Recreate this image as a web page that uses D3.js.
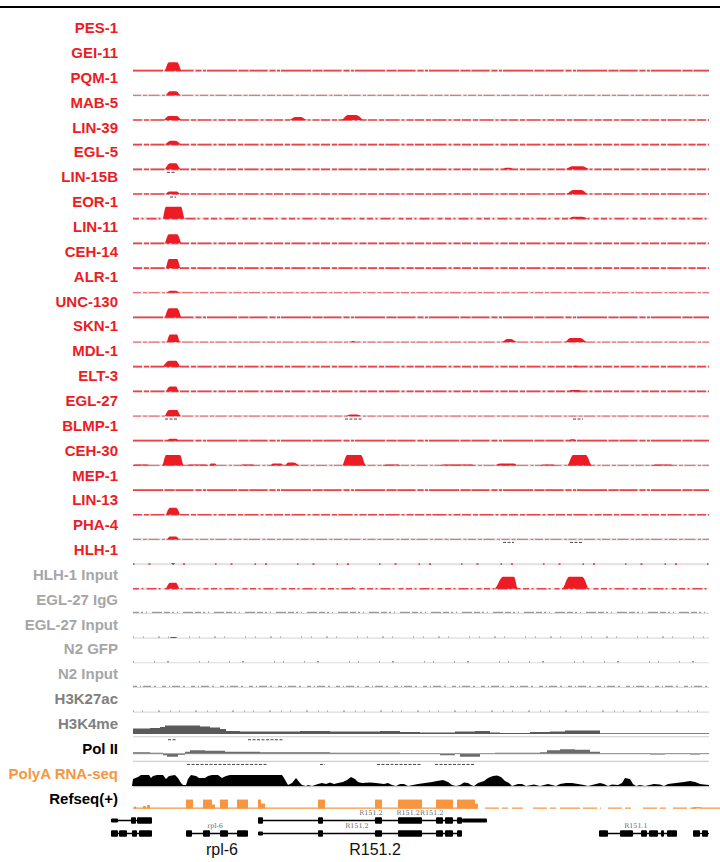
<!DOCTYPE html>
<html>
<head>
<meta charset="utf-8">
<script src="https://cdn.jsdelivr.net/npm/d3@7"></script>
<style>
  body { margin: 0; background: #fff; }
  svg { display: block; }
</style>
</head>
<body>
<div id="chart"></div>
<script>
// track labels, top to bottom
const labels = ['PES-1', 'GEI-11', 'PQM-1', 'MAB-5', 'LIN-39', 'EGL-5', 'LIN-15B', 'EOR-1', 'LIN-11',
  'CEH-14', 'ALR-1', 'UNC-130', 'SKN-1', 'MDL-1', 'ELT-3', 'EGL-27', 'BLMP-1', 'CEH-30', 'MEP-1',
  'LIN-13', 'PHA-4', 'HLH-1', 'HLH-1 Input', 'EGL-27 IgG', 'EGL-27 Input', 'N2 GFP', 'N2 Input',
  'H3K27ac', 'H3K4me', 'Pol II', 'PolyA RNA-seq', 'Refseq(+)'];
const tracks = labels.slice(1);

// ChIP peaks: [track, start, topStart, topEnd, end, height] (bp from window start)
const peaks = [
  ['GEI-11', 320, 360, 440, 480, 8.5],
  ['PQM-1', 330, 370, 430, 470, 4],
  ['MAB-5', 310, 360, 440, 490, 4],
  ['MAB-5', 1560, 1620, 1680, 1740, 3],
  ['MAB-5', 2080, 2150, 2230, 2300, 5],
  ['LIN-39', 320, 380, 420, 480, 4],
  ['EGL-5', 320, 370, 430, 480, 6],
  ['EGL-5', 3690, 3730, 3770, 3810, 1.5],
  ['EGL-5', 4320, 4390, 4490, 4560, 3],
  ['LIN-15B', 330, 360, 440, 470, 2.5],
  ['LIN-15B', 4330, 4400, 4480, 4540, 4],
  ['EOR-1', 300, 330, 480, 520, 12],
  ['EOR-1', 4350, 4400, 4490, 4550, 2],
  ['LIN-11', 320, 360, 440, 480, 9],
  ['CEH-14', 330, 360, 440, 470, 9],
  ['ALR-1', 340, 370, 430, 460, 2],
  ['UNC-130', 320, 360, 440, 480, 9],
  ['SKN-1', 340, 370, 440, 470, 7.5],
  ['SKN-1', 2180, 2190, 2210, 2220, 1],
  ['SKN-1', 3690, 3740, 3780, 3840, 3],
  ['SKN-1', 4320, 4370, 4470, 4530, 4],
  ['MDL-1', 300, 360, 430, 480, 6],
  ['MDL-1', 4390, 4410, 4430, 4450, 1],
  ['ELT-3', 330, 370, 430, 460, 5],
  ['ELT-3', 4360, 4380, 4460, 4480, 1.5],
  ['EGL-27', 320, 360, 440, 480, 6],
  ['EGL-27', 2130, 2170, 2240, 2280, 1.5],
  ['BLMP-1', 340, 370, 430, 460, 2],
  ['BLMP-1', 4360, 4380, 4410, 4430, 1.5],
  ['CEH-30', 0, 20, 150, 170, 1],
  ['CEH-30', 290, 330, 470, 510, 10.5],
  ['CEH-30', 540, 560, 730, 750, 1],
  ['CEH-30', 760, 780, 820, 840, 2],
  ['CEH-30', 1070, 1090, 1200, 1220, 1],
  ['CEH-30', 1370, 1400, 1480, 1510, 2],
  ['CEH-30', 1520, 1550, 1610, 1670, 3],
  ['CEH-30', 2090, 2140, 2280, 2330, 10.5],
  ['CEH-30', 2500, 2530, 2650, 2680, 1],
  ['CEH-30', 3070, 3100, 3390, 3420, 1],
  ['CEH-30', 3610, 3670, 3810, 3850, 2],
  ['CEH-30', 4070, 4100, 4200, 4230, 1],
  ['CEH-30', 4340, 4400, 4530, 4590, 10.5],
  ['CEH-30', 5190, 5220, 5370, 5400, 1],
  ['LIN-13', 330, 370, 430, 470, 7],
  ['PHA-4', 340, 370, 430, 460, 3],
  ['HLH-1', 380, 390, 410, 420, 1],
  ['HLH-1 Input', 330, 370, 430, 470, 6],
  ['HLH-1 Input', 2180, 2190, 2200, 2210, 1.5],
  ['HLH-1 Input', 3610, 3700, 3810, 3850, 12],
  ['HLH-1 Input', 4290, 4360, 4490, 4550, 12],
  ['EGL-27 Input', 370, 380, 430, 440, 1]
];

// small feature ticks under tracks: [track, start, end]
const marks = [
  ['EGL-5', 340, 430], ['LIN-15B', 370, 430],
  ['EGL-27', 320, 440], ['EGL-27', 2120, 2290], ['EGL-27', 4400, 4500],
  ['PHA-4', 3700, 3810], ['PHA-4', 4370, 4490],
  ['H3K4me', 350, 440], ['H3K4me', 1150, 1500],
  ['Pol II', 540, 1340], ['Pol II', 1870, 1920], ['Pol II', 2440, 2890], ['Pol II', 3020, 3420]
];

// H3K4me coverage steps [pos, value]
const h3k4me = [[0, 5.5], [170, 6], [270, 7], [320, 8.5], [670, 7.5], [770, 6.5], [870, 5], [930, 3],
  [1070, 2.5], [1670, 3], [1970, 2.5], [2470, 3], [2670, 2], [2870, 1.5], [3220, 2.5], [3420, 3],
  [3570, 1.5], [3670, 1], [3970, 2], [4170, 2.5], [4320, 3.5], [4670, 0.8], [5760, 0.8]];

// Pol II signal steps [pos, value]
const polII = [[0, 1.5], [170, 1], [300, -1.5], [340, -3], [450, -1], [520, 2], [570, 3.5], [720, 3],
  [920, 2], [1270, 1.5], [1970, 1], [2670, 0.5], [3070, -1.5], [3220, 0.5], [3270, -3], [3470, 0.5],
  [3620, 1], [4070, 1.5], [4140, 3.5], [4270, 4.5], [4420, 4], [4570, 2], [4670, 0.5], [5170, -0.8],
  [5320, 0.5], [5570, -0.8], [5670, 0.5], [5760, 0.5]];

// PolyA RNA-seq coverage [pos, value]
const polyA = [[-10, 0], [0, 7], [50, 9], [80, 11], [160, 11], [180, 8], [200, 10], [240, 11], [300, 11],
  [330, 7], [360, 10], [420, 11], [450, 8], [480, 3], [500, 1], [530, 1], [550, 7], [580, 11], [630, 10],
  [660, 8], [720, 8], [750, 10], [790, 11], [850, 11], [890, 8], [930, 10], [970, 11], [1490, 11],
  [1510, 8], [1550, 1], [1590, 3], [1630, 8], [1670, 3], [1690, 1], [1730, 0], [1750, 1], [1790, 0],
  [1850, 2], [1890, 3], [1930, 2], [1970, 3.5], [2010, 2], [2050, 3], [2100, 4], [2140, 6], [2180, 9],
  [2220, 7], [2250, 4], [2290, 3], [2370, 3.5], [2430, 3], [2510, 2], [2550, 3], [2590, 1], [2630, 0],
  [2670, 2], [2710, 2], [2750, 0], [2850, 2], [2920, 3], [2990, 4], [3040, 5], [3100, 6], [3150, 4],
  [3190, 1], [3230, 0], [3270, 1], [3310, 3.5], [3350, 3], [3380, 1], [3410, 0], [3450, 3], [3510, 5],
  [3550, 8], [3600, 10], [3640, 10.5], [3680, 9], [3720, 5], [3760, 3], [3790, 0], [3850, 2], [3890, 2],
  [3930, 0], [4010, 1.5], [4070, 0], [4150, 2], [4190, 1], [4230, 0], [4270, 2], [4330, 3], [4390, 3],
  [4450, 2], [4510, 1], [4550, 0], [4630, 2], [4670, 3], [4710, 2], [4750, 0], [4790, 1.5], [4850, 1],
  [4890, 3], [4920, 8], [4970, 7], [5000, 2], [5030, 0], [5070, 1], [5120, 0], [5210, 2], [5270, 1.5],
  [5310, 0], [5350, 2], [5430, 3], [5510, 4], [5570, 5], [5620, 4], [5670, 2], [5710, 1.5], [5760, 1]];

// Refseq(+) coverage blocks [start, end, value] and covered stretches of its baseline
const rnaBlocks = [[10, 30, 2], [100, 130, 2.5], [140, 170, 3.5], [530, 600, 9], [700, 790, 9],
  [790, 820, 4], [870, 950, 9], [1040, 1150, 9], [1250, 1280, 9], [1280, 1320, 5], [1850, 1920, 9],
  [2420, 2490, 9], [2650, 2890, 9], [3030, 3200, 9], [3240, 3420, 9], [3420, 3450, 5], [5600, 5680, 1.5]];
const rnaBaseline = [[0, 3450], [3520, 3900], [4000, 4680], [4750, 5000], [5100, 5350], [5400, 5870]];

// gene models: exons [row, start, end, type], introns [row, start, end]
const exons = [
  [0, -220, -150, 'utr'], [0, -20, 30, 'cds'], [0, 40, 190, 'cds'],
  [0, 1250, 1300, 'cds'], [0, 1850, 1900, 'cds'], [0, 2420, 2490, 'cds'], [0, 2650, 2890, 'cds'],
  [0, 3030, 3100, 'cds'], [0, 3120, 3200, 'cds'], [0, 3240, 3290, 'cds'], [0, 3290, 3540, 'utr'],
  [1, -220, -150, 'cds'], [1, -140, -60, 'cds'], [1, -10, 40, 'cds'], [1, 60, 190, 'cds'],
  [1, 530, 590, 'cds'], [1, 700, 770, 'cds'], [1, 870, 950, 'cds'], [1, 1040, 1150, 'cds'],
  [1, 1250, 1300, 'utr'], [1, 1850, 1900, 'cds'], [1, 2420, 2490, 'cds'], [1, 2650, 2890, 'cds'],
  [1, 3030, 3100, 'cds'], [1, 3120, 3200, 'cds'], [1, 3240, 3290, 'cds'],
  [1, 4660, 4750, 'cds'], [1, 4870, 5000, 'cds'], [1, 5080, 5140, 'cds'], [1, 5160, 5250, 'cds'],
  [1, 5280, 5310, 'cds'], [1, 5340, 5440, 'cds'], [1, 5600, 5670, 'cds'], [1, 5690, 5750, 'cds']
];
const introns = [[0, -220, 190], [0, 1250, 3540], [1, -220, 190], [1, 530, 1150], [1, 1250, 3290],
  [1, 4660, 5440], [1, 5600, 5760]];
const geneTags = [['rpl-6', 820, 1], ['R151.2', 2380, 0], ['R151.2', 2240, 1], ['R151.2R151.2', 2870, 0],
  ['R151.1', 5030, 1]];
const geneNames = [['rpl-6', 890], ['R151.2', 2420]];

// ---- styles ----
const RED = '#ED1C24', ORANGE = '#F7963E';
const labelColor = d => {
  const i = labels.indexOf(d);
  if (i <= 21) return RED;
  if (i <= 26) return '#a6a6a6';
  if (i <= 28) return '#808080';
  if (d === 'PolyA RNA-seq') return ORANGE;
  return '#000';
};
const dashes = {
  dense: '30 1.5 10 1 18 2 6 1.5 3 1',
  medium: '9 2 5 1.5 14 2 3 2 7 1.5',
  sparse: '6 2.5 2 3 10 2 2 4 5 2.5',
  light: '8 2 4 1.5 11 2.5 3 1.5',
  dots: '1.5 14 2 22 1.5 9 2 30'
};
const redLine = {
  'GEI-11': 'dense', 'PQM-1': 'light', 'MAB-5': 'medium', 'LIN-39': 'medium', 'EGL-5': 'medium',
  'LIN-15B': 'medium', 'EOR-1': 'sparse', 'LIN-11': 'medium', 'CEH-14': 'medium', 'ALR-1': 'light',
  'UNC-130': 'dense', 'SKN-1': 'light', 'MDL-1': 'medium', 'ELT-3': 'medium', 'EGL-27': 'light',
  'BLMP-1': 'dense', 'CEH-30': 'light', 'MEP-1': 'dense', 'LIN-13': 'medium', 'PHA-4': 'light',
  'HLH-1': 'dots', 'HLH-1 Input': 'sparse'
};
const grayLine = {
  'EGL-27 IgG': '6 2 2 3 1 5 10 2', 'EGL-27 Input': '1 9 1 14 2 8 1 20', 'N2 GFP': '1 20 1 12 2 30 1 8',
  'N2 Input': '4 3 1 2 8 3 2 6', 'H3K27ac': '1 8 1 15 2 10'
};
const zeroOffset = { 'H3K4me': 2.7, 'Pol II': 7.7, 'Refseq(+)': 2.2 };

// ---- layout ----
const W = 720, H = 862;
const svg = d3.select('#chart').append('svg').attr('width', W).attr('height', H);

const x = d3.scaleLinear().domain([0, 5760]).range([133, 709]);
const labelY = d3.scaleBand().domain(labels).range([15.4, 15.4 + labels.length * 24.85]);
const trackY = d3.scaleBand().domain(tracks).range([46, 46 + tracks.length * 24.67]);
const bottom = name => trackY(name) + trackY.bandwidth();
const yOf = name => {
  const b = bottom(name) - (zeroOffset[name] || 0);
  return d3.scaleLinear().domain([0, 12]).range([b, b - 12]);
};
const [x0, x1] = x.domain();

// top rule
svg.append('line').attr('x1', 0).attr('x2', W).attr('y1', 7).attr('y2', 7)
  .attr('stroke', '#000').attr('stroke-width', 2.2);

// labels
svg.append('g').selectAll('text').data(labels).enter().append('text')
  .attr('x', 118)
  .attr('y', d => labelY(d) + labelY.bandwidth() / 2)
  .attr('dy', '0.36em')
  .attr('text-anchor', 'end')
  .style('font-family', '"Liberation Sans", Arial, sans-serif')
  .style('font-weight', 'bold')
  .style('font-size', '15px')
  .attr('fill', labelColor)
  .text(d => d);

// ChIP tracks
const area = y => d3.area().x(d => x(d[0])).y0(y(0)).y1(d => y(d[1])).curve(d3.curveMonotoneX);

Object.keys(redLine).forEach(name => {
  const y = yOf(name);
  const g = svg.append('g');
  g.append('line').attr('x1', x(x0)).attr('x2', x(x1)).attr('y1', y(0)).attr('y2', y(0))
    .attr('stroke', '#e4e4e4').attr('stroke-width', 2.2);
  const kind = redLine[name];
  g.append('line').attr('x1', x(x0)).attr('x2', x(x1)).attr('y1', y(0)).attr('y2', y(0))
    .attr('stroke', RED)
    .attr('stroke-width', kind === 'light' ? 1.3 : 1.7)
    .attr('opacity', kind === 'light' ? 0.55 : 0.8)
    .attr('stroke-dasharray', dashes[kind]);
});

Object.keys(grayLine).forEach(name => {
  const y = yOf(name);
  svg.append('line').attr('x1', x(x0)).attr('x2', x(x1)).attr('y1', y(0)).attr('y2', y(0))
    .attr('stroke', '#dcdcdc').attr('stroke-width', 1.2);
  svg.append('line').attr('x1', x(x0)).attr('x2', x(x1)).attr('y1', y(0) - 1).attr('y2', y(0) - 1)
    .attr('stroke', '#9a9a9a').attr('stroke-width', 1.3).attr('stroke-dasharray', grayLine[name]);
});

d3.group(peaks, d => d[0]).forEach((rows, name) => {
  const y = yOf(name);
  const pts = [];
  rows.slice().sort((a, b) => a[1] - b[1]).forEach(p => {
    pts.push([p[1], 0], [p[2], p[5]], [p[3], p[5]], [p[4], 0]);
  });
  svg.append('path').datum(pts).attr('d', area(y)).attr('fill', RED);
});

// feature ticks
svg.append('g').selectAll('line').data(marks).enter().append('line')
  .attr('x1', d => x(d[1])).attr('x2', d => x(d[2]))
  .attr('y1', d => bottom(d[0]) + 3).attr('y2', d => bottom(d[0]) + 3)
  .attr('stroke', '#444').attr('stroke-width', 1).attr('stroke-dasharray', '3 1.5');

// H3K4me
{
  const y = yOf('H3K4me');
  svg.append('line').attr('x1', x(x0)).attr('x2', x(x1))
    .attr('y1', bottom('H3K4me')).attr('y2', bottom('H3K4me'))
    .attr('stroke', '#cfcfcf').attr('stroke-width', 1);
  svg.append('path').datum(h3k4me)
    .attr('d', d3.area().x(d => x(d[0])).y0(y(0)).y1(d => y(d[1])).curve(d3.curveStepAfter))
    .attr('fill', '#5a5a5a');
}

// Pol II
{
  const y = yOf('Pol II');
  svg.append('line').attr('x1', x(x0)).attr('x2', x(x1))
    .attr('y1', bottom('Pol II')).attr('y2', bottom('Pol II'))
    .attr('stroke', '#cfcfcf').attr('stroke-width', 1.2);
  svg.append('path').datum(polII)
    .attr('d', d3.area().x(d => x(d[0])).y0(y(0)).y1(d => y(d[1])).curve(d3.curveStepAfter))
    .attr('fill', '#6b6b6b');
  svg.append('line').attr('x1', x(x0)).attr('x2', x(x1)).attr('y1', y(0)).attr('y2', y(0))
    .attr('stroke', '#8a8a8a').attr('stroke-width', 0.8);
}

// PolyA RNA-seq
{
  const y = yOf('PolyA RNA-seq');
  svg.append('path').datum(polyA)
    .attr('d', d3.area().x(d => x(d[0])).y0(y(0)).y1(d => y(d[1])))
    .attr('fill', '#000');
  svg.append('line').attr('x1', x(x0)).attr('x2', x(x1)).attr('y1', y(0) + 0.5).attr('y2', y(0) + 0.5)
    .attr('stroke', '#c4c4c4').attr('stroke-width', 1.2);
}

// Refseq(+) coverage
{
  const y = yOf('Refseq(+)');
  svg.append('g').selectAll('line').data(rnaBaseline).enter().append('line')
    .attr('x1', d => x(d[0])).attr('x2', d => x(d[1])).attr('y1', y(0) - 0.5).attr('y2', y(0) - 0.5)
    .attr('stroke', ORANGE).attr('stroke-width', 1.3)
    .attr('stroke-dasharray', (d, i) => i === 0 ? null : '14 3 6 4 20 3');
  svg.append('g').selectAll('rect').data(rnaBlocks).enter().append('rect')
    .attr('x', d => x(d[0])).attr('width', d => x(d[1]) - x(d[0]))
    .attr('y', d => y(d[2])).attr('height', d => y(0) - y(d[2]))
    .attr('fill', ORANGE);
}

// gene models
const rowY = d3.scaleBand().domain([0, 1]).range([814, 840]);
const rowMid = r => rowY(r) + rowY.bandwidth() / 2;
const genes = svg.append('g');
genes.selectAll('line').data(introns).enter().append('line')
  .attr('x1', d => x(d[1])).attr('x2', d => x(d[2]))
  .attr('y1', d => rowMid(d[0])).attr('y2', d => rowMid(d[0]))
  .attr('stroke', '#000').attr('stroke-width', 1.3);
genes.selectAll('rect').data(exons).enter().append('rect')
  .attr('x', d => x(d[1])).attr('width', d => x(d[2]) - x(d[1]))
  .attr('y', d => rowMid(d[0]) - (d[3] === 'utr' ? 2 : 3.2))
  .attr('height', d => d[3] === 'utr' ? 4 : 6.4)
  .attr('rx', 1)
  .attr('fill', '#000');
genes.selectAll('text').data(geneTags).enter().append('text')
  .attr('x', d => x(d[1])).attr('y', d => rowMid(d[2]) - 5.5)
  .attr('text-anchor', 'middle')
  .style('font-family', '"DejaVu Serif", "Liberation Serif", serif')
  .style('font-size', '6.5px')
  .attr('fill', '#666')
  .text(d => d[0]);

svg.append('g').selectAll('text').data(geneNames).enter().append('text')
  .attr('x', d => x(d[1])).attr('y', 855)
  .attr('text-anchor', 'middle')
  .style('font-family', '"Liberation Sans", Arial, sans-serif')
  .style('font-size', '16px')
  .attr('fill', '#111')
  .text(d => d[0]);
</script>
</body>
</html>
